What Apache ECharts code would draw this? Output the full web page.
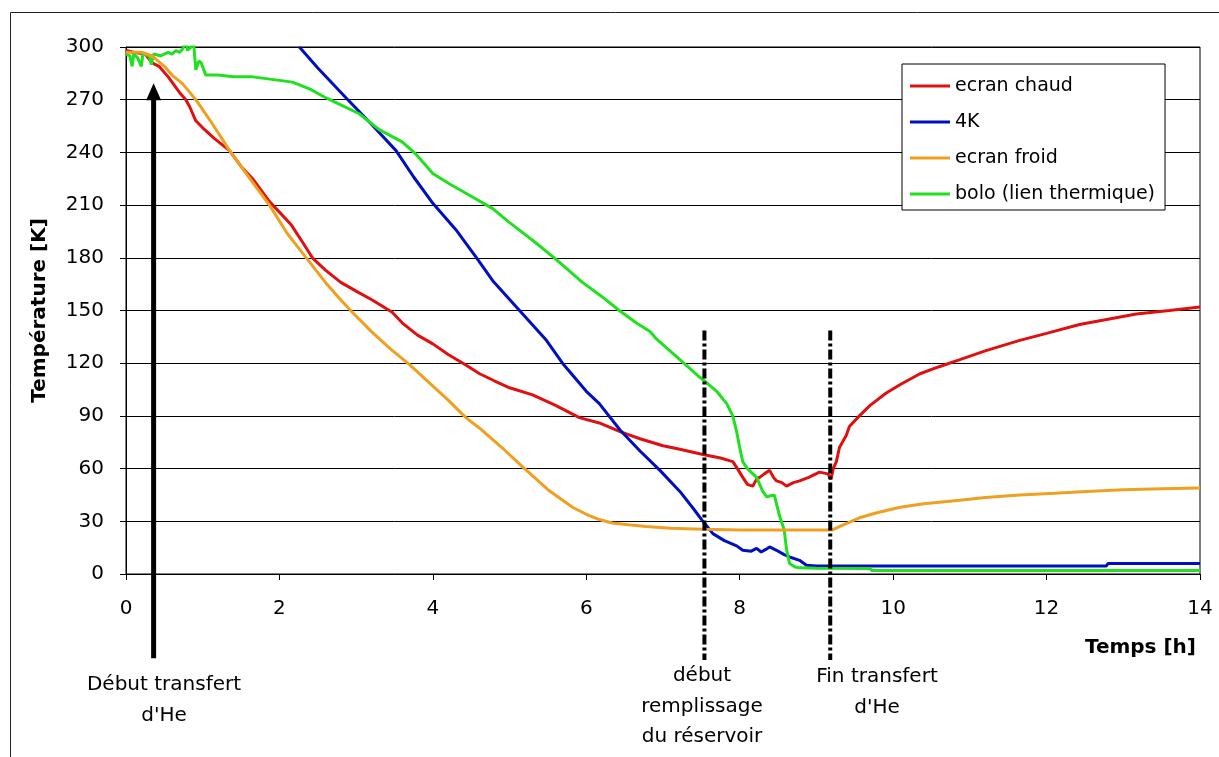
<!DOCTYPE html>
<html><head><meta charset="utf-8">
<script src="https://cdn.jsdelivr.net/npm/echarts@6/dist/echarts.min.js"></script>
<style>html,body{margin:0;padding:0;background:#fff}#c{width:1219px;height:757px}</style>
</head><body><div id="c"></div>
<script>
// ---- data ----
const xTicks = [0, 2, 4, 6, 8, 10, 12, 14];
const yTicks = [0, 30, 60, 90, 120, 150, 180, 210, 240, 270, 300];
const seriesNames = ['ecran chaud', '4K', 'ecran froid', 'bolo (lien thermique)'];

const ecranChaud = [[0,298],[0.1,297],[0.25,296],[0.34,291],[0.43,289],[0.55,283],[0.7,274],[0.78,270],[0.83,266],[0.91,258],[1.0,254],[1.15,248],[1.35,241],[1.5,232],[1.65,225],[1.87,212],[2.0,206],[2.15,199],[2.3,189],[2.43,180],[2.6,173],[2.8,166],[3.0,161],[3.21,156],[3.47,149],[3.6,143],[3.8,136],[4.0,131],[4.2,125],[4.43,119],[4.61,114],[4.8,110],[5.0,106],[5.3,102],[5.6,96],[5.91,89],[6.17,86],[6.44,81],[6.7,77],[7.0,73],[7.22,71],[7.52,68],[7.75,66],[7.91,64],[7.97,60],[8.04,55],[8.1,51],[8.17,50],[8.22,54],[8.26,55],[8.32,57],[8.39,59],[8.44,55],[8.48,53],[8.55,52],[8.61,50],[8.7,52],[8.78,53],[8.9,55],[9.04,58],[9.15,57],[9.19,54],[9.22,60],[9.26,64],[9.3,72],[9.39,79],[9.43,84],[9.56,90],[9.7,96],[9.91,103],[10.1,108],[10.35,114],[10.6,118],[10.87,122],[11.2,127],[11.65,133],[12.0,137],[12.43,142],[12.8,145],[13.17,148],[13.6,150],[14,152]];

const k4 = [[2.26,300],[2.5,288],[2.87,271],[3.2,256],[3.52,241],[3.75,226],[4.0,211],[4.3,196],[4.57,180],[4.78,167],[5.13,150],[5.48,133],[5.69,120],[6.0,104],[6.17,97],[6.44,82],[6.7,70],[6.96,59],[7.22,47],[7.4,37],[7.52,30],[7.65,23],[7.8,19],[7.96,16],[8.04,13.5],[8.15,13],[8.22,14.6],[8.28,12.5],[8.34,14],[8.39,15.4],[8.48,13.5],[8.58,11],[8.65,9.7],[8.78,7.8],[8.87,5],[9.0,4.5],[10,4.5],[11,4.5],[12,4.5],[12.78,4.5],[12.8,6],[14,6]];

const ecranFroid = [[0,297],[0.2,297],[0.34,295],[0.5,289],[0.6,284],[0.74,279],[0.91,270],[1.1,258],[1.35,241],[1.6,226],[1.87,210],[2.1,194],[2.35,180],[2.6,166],[2.78,157],[2.95,149],[3.2,138],[3.45,128],[3.7,119],[4.0,107],[4.2,99],[4.43,89],[4.61,83],[4.9,72],[5.17,61],[5.5,48],[5.82,38],[6.0,34],[6.17,31],[6.34,29],[6.55,28],[6.78,27],[7.1,26],[7.52,25.5],[8.0,25],[8.52,25],[9.0,25],[9.2,25],[9.35,28],[9.56,32],[9.8,35],[10.09,38],[10.4,40],[10.87,42],[11.2,43.5],[11.65,45],[12.1,46],[12.52,47],[13.0,48],[13.5,48.5],[14,49]];

const bolo = [[0,296],[0.05,295],[0.08,289],[0.1,296],[0.15,294],[0.2,289],[0.22,296],[0.3,295],[0.33,290],[0.36,296],[0.45,295],[0.5,296],[0.55,297],[0.6,296],[0.65,298],[0.7,297],[0.74,299],[0.78,304],[0.8,298],[0.85,300],[0.88,303],[0.9,302],[0.91,287],[0.95,292],[0.98,291],[1.04,284],[1.2,284],[1.4,283],[1.65,283],[2.0,281],[2.17,280],[2.4,276],[2.61,271],[2.8,267],[3.04,262],[3.3,253],[3.6,246],[3.78,239],[4.0,228],[4.22,222],[4.5,215],[4.78,208],[5.0,200],[5.3,190],[5.61,179],[5.95,166],[6.2,158],[6.43,150],[6.65,143],[6.83,138],[6.91,134],[7.22,122],[7.48,112],[7.54,110],[7.7,104],[7.83,97],[7.91,90],[7.96,81],[8.0,72],[8.04,64],[8.1,60],[8.22,55],[8.3,47],[8.35,44],[8.45,45],[8.52,33],[8.58,25],[8.61,14],[8.65,6],[8.72,4],[8.78,3.5],[9.0,3.3],[9.7,3.2],[9.72,2],[14,2]];

// annotation events (time in h)
const eventArrowX = 0.36;
const eventLinesX = [7.54, 9.18];
const eventLineTop = 138.6;   // K
const eventLineBottom = -49;  // K (below axis)
const eventArrowTop = 274.5;  // K

const colors = ['#e01010', '#0010c0', '#f0a020', '#20e020'];
const FONT = 'DejaVu Sans';

const chart = echarts.init(document.getElementById('c'), null, {renderer: 'canvas'});

const dataSeries = [ecranChaud, k4, ecranFroid, bolo].map((d, i) => ({
  name: seriesNames[i], type: 'line', data: d, showSymbol: false, symbol: 'none',
  lineStyle: {color: colors[i], width: 3}, itemStyle: {color: colors[i]},
  clip: true, z: 3 + (i === 2 ? 1 : 0)
}));

const dashSeries = eventLinesX.map(x => ({
  type: 'line', data: [[x, eventLineTop], [x, eventLineBottom]], symbol: 'none',
  clip: false, silent: true, z: 10,
  lineStyle: {color: '#000', width: 4, type: [10, 3, 3, 3]}
}));

const arrowSeries = {
  type: 'line', clip: false, silent: true, z: 10,
  data: [{value: [eventArrowX, eventLineBottom + 1], symbol: 'none'},
         {value: [eventArrowX, eventArrowTop], symbol: 'triangle', symbolSize: [15, 17]}],
  showSymbol: true,
  lineStyle: {color: '#000', width: 5}, itemStyle: {color: '#000'}
};

chart.setOption({
  animation: false,
  backgroundColor: '#fff',
  textStyle: {fontFamily: FONT},
  grid: {left: 126, right: 19, top: 47, bottom: 183, show: true, borderColor: '#000', borderWidth: 1},
  legend: {
    data: seriesNames, orient: 'vertical', left: 902, top: 64,
    padding: [12, 10, 6, 8], itemGap: 16, itemWidth: 40, itemHeight: 3, icon: 'rect',
    backgroundColor: '#fff', borderColor: '#000', borderWidth: 1, borderRadius: 0,
    textStyle: {fontFamily: FONT, fontSize: 19, color: '#000', lineHeight: 20}
  },
  xAxis: {
    type: 'value', min: xTicks[0], max: xTicks[xTicks.length - 1], interval: xTicks[1] - xTicks[0],
    splitLine: {show: false},
    axisLine: {show: true, lineStyle: {color: '#000', width: 1}},
    axisTick: {show: true, inside: false, length: 6, lineStyle: {color: '#000'}},
    axisLabel: {fontFamily: FONT, fontSize: 20, color: '#000', margin: 25},
    name: 'Temps [h]', nameLocation: 'end', nameGap: -4,
    nameTextStyle: {fontFamily: FONT, fontSize: 20, fontWeight: 'bold', color: '#000', align: 'right', verticalAlign: 'top', padding: [64, 0, 0, 0]}
  },
  yAxis: {
    type: 'value', min: yTicks[0], max: yTicks[yTicks.length - 1], interval: yTicks[1] - yTicks[0],
    splitLine: {show: true, lineStyle: {color: '#000', width: 1}},
    axisLine: {show: true, lineStyle: {color: '#000', width: 1}},
    axisTick: {show: true, inside: false, length: 6, lineStyle: {color: '#000'}},
    axisLabel: {fontFamily: FONT, fontSize: 20, color: '#000', margin: 22},
    name: 'Température [K]', nameLocation: 'middle', nameGap: 76,
    nameTextStyle: {fontFamily: FONT, fontSize: 20, fontWeight: 'bold', color: '#000'}
  },
  series: dataSeries.concat(dashSeries, [arrowSeries]),
  graphic: [
    {type: 'rect', silent: true, shape: {x: 10.5, y: 12.5, width: 1400, height: 1000},
     style: {fill: 'none', stroke: '#222', lineWidth: 1}, z: -1},
    {type: 'text', x: 164, y: 669, silent: true,
     style: {text: 'Début transfert\nd\'He', font: '20px "DejaVu Sans"', fill: '#000', align: 'center', verticalAlign: 'top', lineHeight: 31}},
    {type: 'text', x: 702, y: 661, silent: true,
     style: {text: 'début\nremplissage\ndu réservoir', font: '20px "DejaVu Sans"', fill: '#000', align: 'center', verticalAlign: 'top', lineHeight: 30.5}},
    {type: 'text', x: 877, y: 661, silent: true,
     style: {text: 'Fin transfert\nd\'He', font: '20px "DejaVu Sans"', fill: '#000', align: 'center', verticalAlign: 'top', lineHeight: 31}}
  ]
});
</script></body></html>
